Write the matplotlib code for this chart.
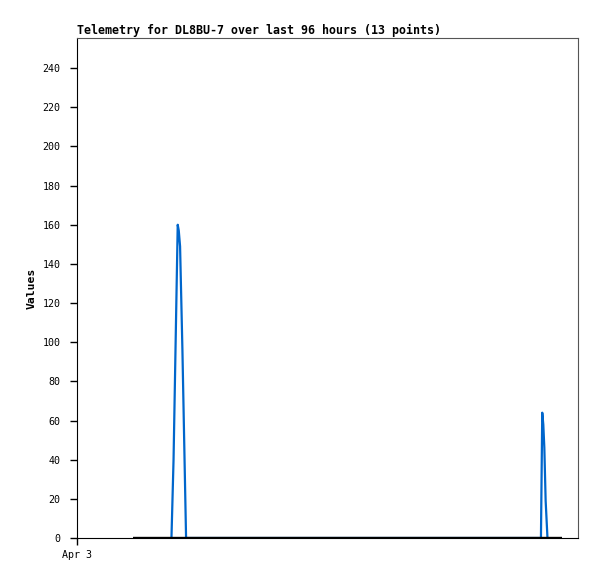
import numpy as np
import matplotlib
matplotlib.use('Agg')
from matplotlib import pyplot as plt

plt.rcParams['font.family'] = ['DejaVu Sans Mono']

# hours since Apr 3 00:00
blue_hours = [18.1, 18.5, 19.3, 19.5, 19.75, 20.2, 20.9, 88.9, 89.15, 89.35, 89.55, 89.8, 90.15]
blue_vals = [0, 40, 160, 157, 149, 96, 0, 0, 64, 58, 46, 19, 0]
base_hours = [10.7, 92.9]
base_vals = [0, 0]
yticks = list(range(0, 241, 20))

fig = plt.figure(figsize=(5.97, 5.79), dpi=100)
ax = fig.add_axes([77 / 597, 41 / 579, 501 / 597, 500 / 579])
ax.plot(blue_hours, blue_vals, color='#0066cc', lw=1.6, zorder=2)
ax.plot(base_hours, base_vals, color='black', lw=1.7, solid_capstyle='butt', zorder=3)

ax.set_xlim(0, 96)
ax.set_ylim(0, 255.4)
ax.set_yticks(yticks)
ax.set_yticklabels([str(v) for v in yticks], fontsize=7.2)
ax.set_xticks([0])
ax.set_xticklabels(['Apr 3'], fontsize=7.2)
ax.tick_params(axis='y', length=5, width=1, pad=7)
ax.tick_params(axis='x', length=5, width=1, pad=4)
for s in ['top', 'right']:
    ax.spines[s].set_color('#555555')
ax.spines['left'].set_color('black')
ax.spines['bottom'].set_color('black')
ax.set_ylabel('Values', fontsize=8.2, fontweight='bold', labelpad=4)
ax.set_title('Telemetry for DL8BU-7 over last 96 hours (13 points)', loc='left',
             fontsize=8.4, fontweight='bold', pad=3)

plt.savefig('out.png', dpi=100)
